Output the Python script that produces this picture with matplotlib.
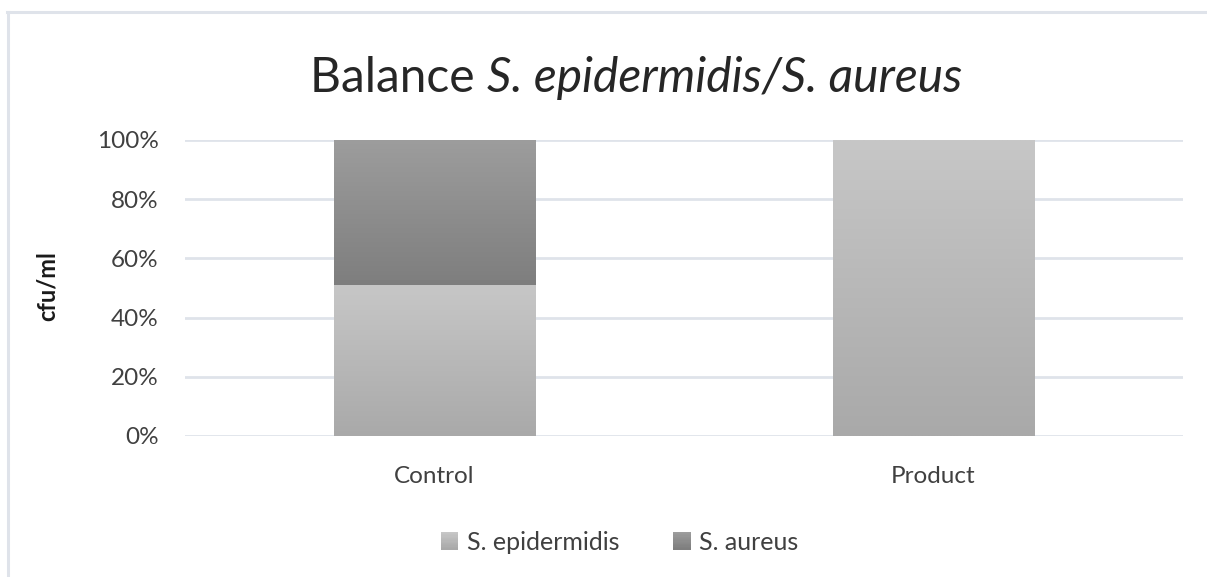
import numpy as np
import matplotlib
matplotlib.use("Agg")
import matplotlib.pyplot as plt
from matplotlib.patches import Rectangle
from matplotlib.legend_handler import HandlerBase
from matplotlib.lines import Line2D

plt.rcParams['font.family'] = ['Lato', 'DejaVu Sans']

categories = ["Control", "Product"]
series_names = ["S. epidermidis", "S. aureus"]
epidermidis = [0.51, 1.00]
aureus = [0.49, 0.00]
yticks = [0.0, 0.2, 0.4, 0.6, 0.8, 1.0]
ytick_labels = ["0%", "20%", "40%", "60%", "80%", "100%"]

grad_colors = {
    "S. epidermidis": ("#c7c7c7", "#a9a9a9"),
    "S. aureus": ("#9d9d9d", "#7e7e7e"),
}
grid_color = "#dfe3ea"
text_color = "#404040"

W, H = 1207, 577
fig = plt.figure(figsize=(W / 100, H / 100), dpi=100)
fig.patch.set_facecolor("white")

# outer chart frame (cropped at right and bottom)
fig.add_artist(Line2D([7 / W, 1.0], [1 - 11.5 / H, 1 - 11.5 / H], color=grid_color, lw=2.2,
                      transform=fig.transFigure))
fig.add_artist(Line2D([7.5 / W, 7.5 / W], [0, 1 - 11.5 / H], color=grid_color, lw=2.2,
                      transform=fig.transFigure))

ax = fig.add_axes([185 / W, 1 - 436 / H, (1183 - 185) / W, (436 - 140) / H])
x = np.arange(len(categories))

for yv in yticks:
    ax.axhline(yv, color=grid_color, lw=2.0, zorder=0)

def hex2rgb(h):
    return np.array(matplotlib.colors.to_rgb(h))

def gradient_fill(ax, bars, top, bottom):
    c_top, c_bot = hex2rgb(top), hex2rgb(bottom)
    t = np.linspace(0, 1, 256)[:, None]
    img = (c_top[None, :] * (1 - t) + c_bot[None, :] * t)[:, None, :]
    for b in bars:
        if b.get_height() <= 0:
            continue
        x0, y0 = b.get_x(), b.get_y()
        w, h = b.get_width(), b.get_height()
        im = ax.imshow(img, extent=[x0, x0 + w, y0, y0 + h], origin="upper",
                       aspect="auto", zorder=2, interpolation="bilinear")
        im.set_clip_path(b)

bw = 0.403
b1 = ax.bar(x, epidermidis, width=bw, facecolor="none", edgecolor="none", zorder=2)
gradient_fill(ax, b1, *grad_colors["S. epidermidis"])
b2 = ax.bar(x, aureus, width=bw, bottom=epidermidis, facecolor="none", edgecolor="none", zorder=2)
gradient_fill(ax, b2, *grad_colors["S. aureus"])
ax.set_xlim(-0.5, len(categories) - 0.5)
ax.set_ylim(0, 1)

for s in ax.spines.values():
    s.set_visible(False)
ax.set_yticks(yticks)
ax.set_yticklabels(ytick_labels, fontsize=17.5, color=text_color)
ax.set_xticks(x)
ax.set_xticklabels(categories, fontsize=17.5, color=text_color)
ax.tick_params(axis="both", length=0)
ax.tick_params(axis="y", pad=19)
ax.tick_params(axis="x", pad=21.5)

fig.text(47 / W, 1 - 286 / H, "cfu/ml", rotation=90, fontsize=17, fontweight="bold",
         color="#1a1a1a", ha="center", va="center")

# title: "Balance " regular + italic species, centred as a whole
title_y = 1 - 92 / H
t1 = fig.text(0, title_y, "Balance ", fontsize=34.5, color="#262626", ha="left", va="baseline")
t2 = fig.text(0, title_y, "S. epidermidis/S. aureus", fontsize=34.5, style="italic",
              color="#262626", ha="left", va="baseline")
fig.canvas.draw()
r = fig.canvas.get_renderer()
w1 = t1.get_window_extent(r).width
w2 = t2.get_window_extent(r).width
x_start = 636 - (w1 + w2) / 2
t1.set_x(x_start / W)
t2.set_x((x_start + w1) / W)

class GradHandler(HandlerBase):
    def __init__(self, top, bot):
        super().__init__()
        self.top, self.bot = hex2rgb(top), hex2rgb(bot)
    def create_artists(self, legend, orig_handle, xdescent, ydescent, width, height, fontsize, trans):
        arts = []
        n = 14
        size = height * 1.0
        x0 = -xdescent + (width - size)
        y0 = -ydescent + (height - size) / 2
        for i in range(n):
            f = i / (n - 1)
            c = self.top * (1 - f) + self.bot * f
            rr = Rectangle((x0, y0 + size * (1 - (i + 1) / n)), size, size / n + 0.3,
                           facecolor=c, edgecolor="none", transform=trans)
            arts.append(rr)
        return arts

h1 = Rectangle((0, 0), 1, 1)
h2 = Rectangle((0, 0), 1, 1)
leg = fig.legend([h1, h2], series_names, loc="center", bbox_to_anchor=(619 / W, 1 - 542 / H),
                 ncol=2, frameon=False, fontsize=18, handlelength=0.75, handletextpad=0.35,
                 columnspacing=2.1,
                 handler_map={h1: GradHandler(*grad_colors["S. epidermidis"]),
                              h2: GradHandler(*grad_colors["S. aureus"])})
for t in leg.get_texts():
    t.set_color(text_color)

fig.savefig("out.png", dpi=100, facecolor="white")
